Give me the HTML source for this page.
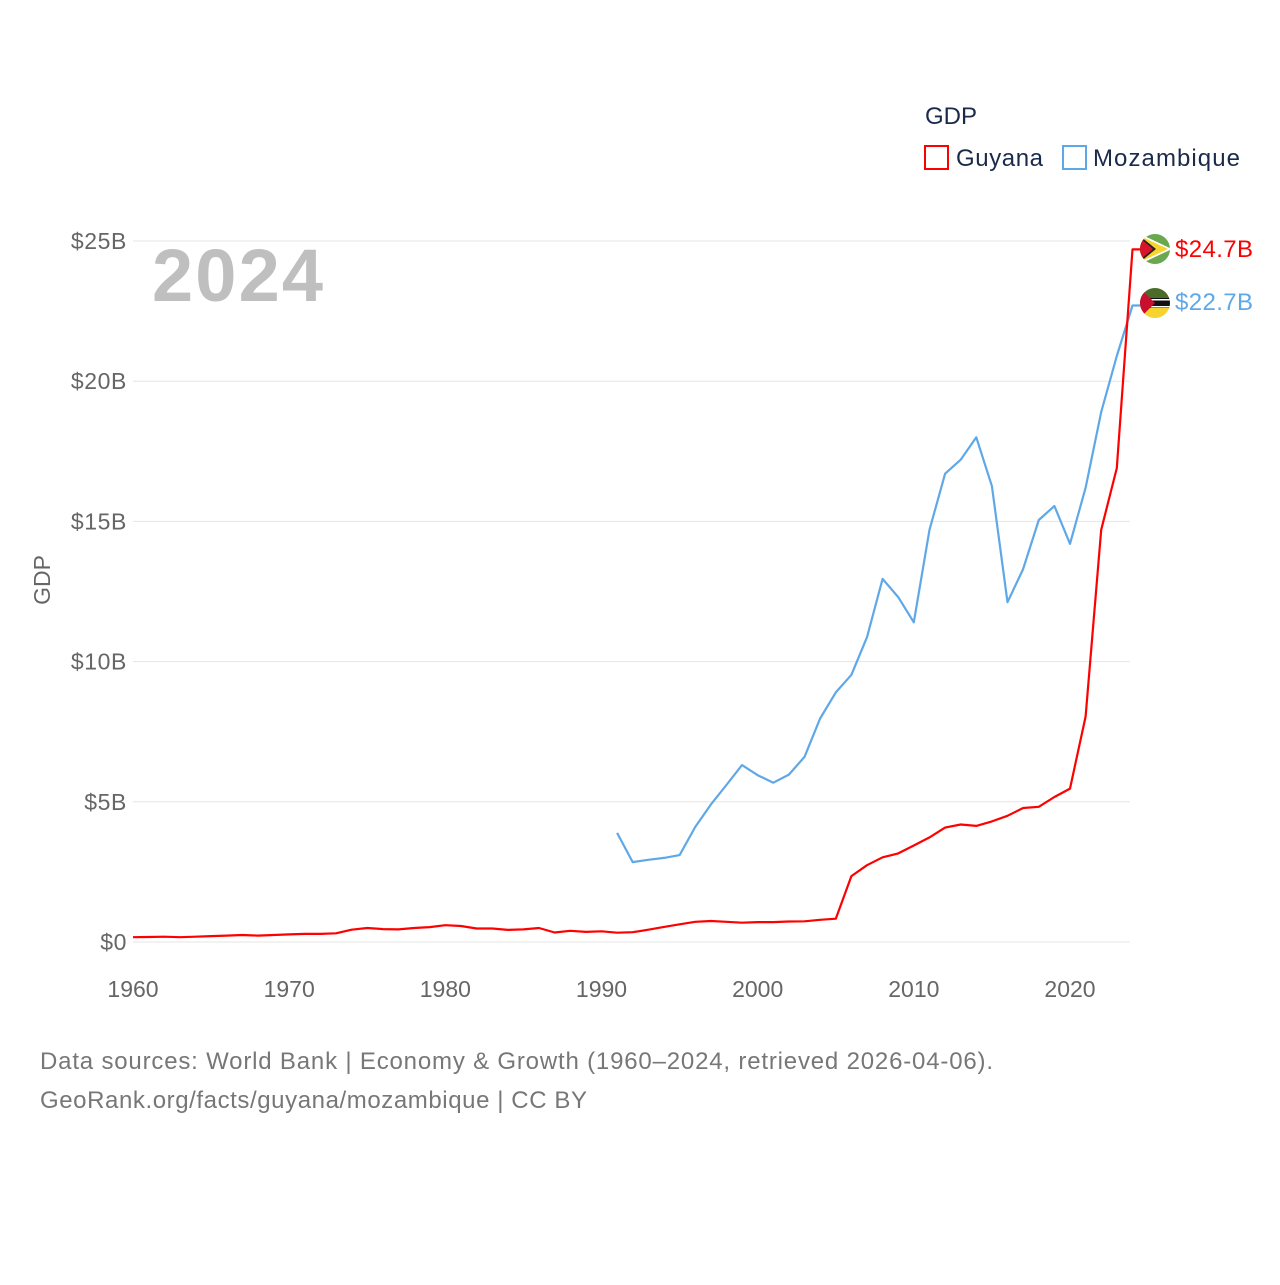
<!DOCTYPE html>
<html><head><meta charset="utf-8"><style>
body{margin:0;background:#fff;font-family:"Liberation Sans",sans-serif}
svg text{font-family:"Liberation Sans",sans-serif}
</style></head><body>
<svg width="1280" height="1280" viewBox="0 0 1280 1280">
<defs>
<clipPath id="c1"><circle cx="1155" cy="249" r="15"/></clipPath>
<clipPath id="c2"><circle cx="1155" cy="303" r="15"/></clipPath>
</defs>
<g id="grid"></g>
<g id="yt"></g>
<g id="xt"></g>
<text x="50" y="580" transform="rotate(-90 50 580)" text-anchor="middle" font-size="23" fill="#666">GDP</text>
<text x="152" y="301" font-size="74" font-weight="bold" fill="#bfbfbf" textLength="171">2024</text>
<g id="lines"></g>
<g>
<text x="925" y="124" font-size="24" fill="#1a2a4a">GDP</text>
<rect x="925" y="146" width="23" height="23" fill="none" stroke="#ff0000" stroke-width="2"/>
<text x="956" y="166" font-size="24" fill="#1a2a4a" textLength="87">Guyana</text>
<rect x="1063" y="146" width="23" height="23" fill="none" stroke="#5fa8e8" stroke-width="2"/>
<text x="1093" y="166" font-size="24" fill="#1a2a4a" textLength="147">Mozambique</text>
</g>
<g clip-path="url(#c1)">
<rect x="1140" y="234" width="30" height="30" fill="#6aa84f"/>
<polygon points="1140,234 1172,249 1140,264" fill="#fff"/>
<polygon points="1140,236 1168,249 1140,262" fill="#f6d32d"/>
<polygon points="1140,236 1156,249 1140,262" fill="#222"/>
<polygon points="1140,238 1153,249 1140,260" fill="#d9142a"/>
</g>
<g clip-path="url(#c2)">
<rect x="1140" y="288" width="30" height="10" fill="#4a6b2a"/>
<rect x="1140" y="298" width="30" height="10" fill="#111"/>
<rect x="1140" y="299" width="30" height="1.5" fill="#fff"/>
<rect x="1140" y="306" width="30" height="1.5" fill="#fff"/>
<rect x="1140" y="308" width="30" height="10" fill="#f6d32d"/>
<polygon points="1140,288 1155,303 1140,318" fill="#c8102e"/>
</g>
<text x="1175" y="257" font-size="24" fill="#ff0000" textLength="78">$24.7B</text>
<text x="1175" y="310" font-size="24" fill="#5fa8e8" textLength="78">$22.7B</text>
<text x="40" y="1069" font-size="24" fill="#777" textLength="953">Data sources: World Bank | Economy &amp; Growth (1960–2024, retrieved 2026-04-06).</text>
<text x="40" y="1108" font-size="24" fill="#777" textLength="547">GeoRank.org/facts/guyana/mozambique | CC BY</text>
</svg>
<script>
const guyanaYears0 = 1960;
const guyana = [0.17,0.18,0.19,0.17,0.19,0.21,0.23,0.25,0.23,0.25,0.27,0.29,0.29,0.31,0.44,0.5,0.46,0.45,0.5,0.53,0.6,0.57,0.48,0.48,0.43,0.45,0.5,0.34,0.4,0.36,0.38,0.33,0.35,0.44,0.54,0.63,0.72,0.75,0.72,0.69,0.71,0.71,0.73,0.74,0.79,0.83,2.35,2.74,3.02,3.16,3.44,3.73,4.08,4.19,4.14,4.3,4.5,4.78,4.82,5.17,5.47,8.04,14.7,16.9,24.7];
const mozYears0 = 1991;
const mozambique = [3.89,2.85,2.93,3.0,3.1,4.1,4.9,5.6,6.31,5.95,5.68,5.97,6.6,7.97,8.9,9.53,10.87,12.95,12.3,11.4,14.7,16.7,17.2,18.0,16.26,12.12,13.3,15.05,15.55,14.2,16.2,18.9,20.9,22.7];
const yTicks = [0,5,10,15,20,25];
const yTickLabels = ["$0","$5B","$10B","$15B","$20B","$25B"];
const xTicks = [1960,1970,1980,1990,2000,2010,2020];
const NS="http://www.w3.org/2000/svg";
const X = yr => 133 + (yr-1960)*937/60;
const Y = v => 942 - v*(942-241)/25;
function mk(t,a,p){const e=document.createElementNS(NS,t);for(const k in a)e.setAttribute(k,a[k]);p.appendChild(e);return e;}
const grid=document.getElementById('grid'),yt=document.getElementById('yt'),xt=document.getElementById('xt'),lines=document.getElementById('lines');
yTicks.forEach((v,i)=>{
 const l=mk('line',{x1:133,x2:1130,y1:Y(v),y2:Y(v),stroke:'#e6e6e6','stroke-width':1},grid);
 
 
 const t=mk('text',{x:127,y:Y(v)+8,'text-anchor':'end','font-size':23,fill:'#666','letter-spacing':'0.6'},yt);
 t.textContent=yTickLabels[i];
 
 
});
xTicks.forEach(v=>{
 const t=mk('text',{x:X(v),y:997,'text-anchor':'middle','font-size':23,fill:'#666'},xt);
 t.textContent=v;
 
 
});
function line(data,y0,color,name){
 let d=data.map((v,i)=>(i?'L':'M')+X(y0+i).toFixed(1)+','+Y(v).toFixed(1)).join('');
 d+='H1140';
 const p=mk('path',{d:d,fill:'none',stroke:color,'stroke-width':2.2,'stroke-linejoin':'round'},lines);
 
 
}
line(mozambique,mozYears0,'#5fa8e8','mozambique-line');
line(guyana,guyanaYears0,'#ff0000','guyana-line');
</script>
</body></html>
